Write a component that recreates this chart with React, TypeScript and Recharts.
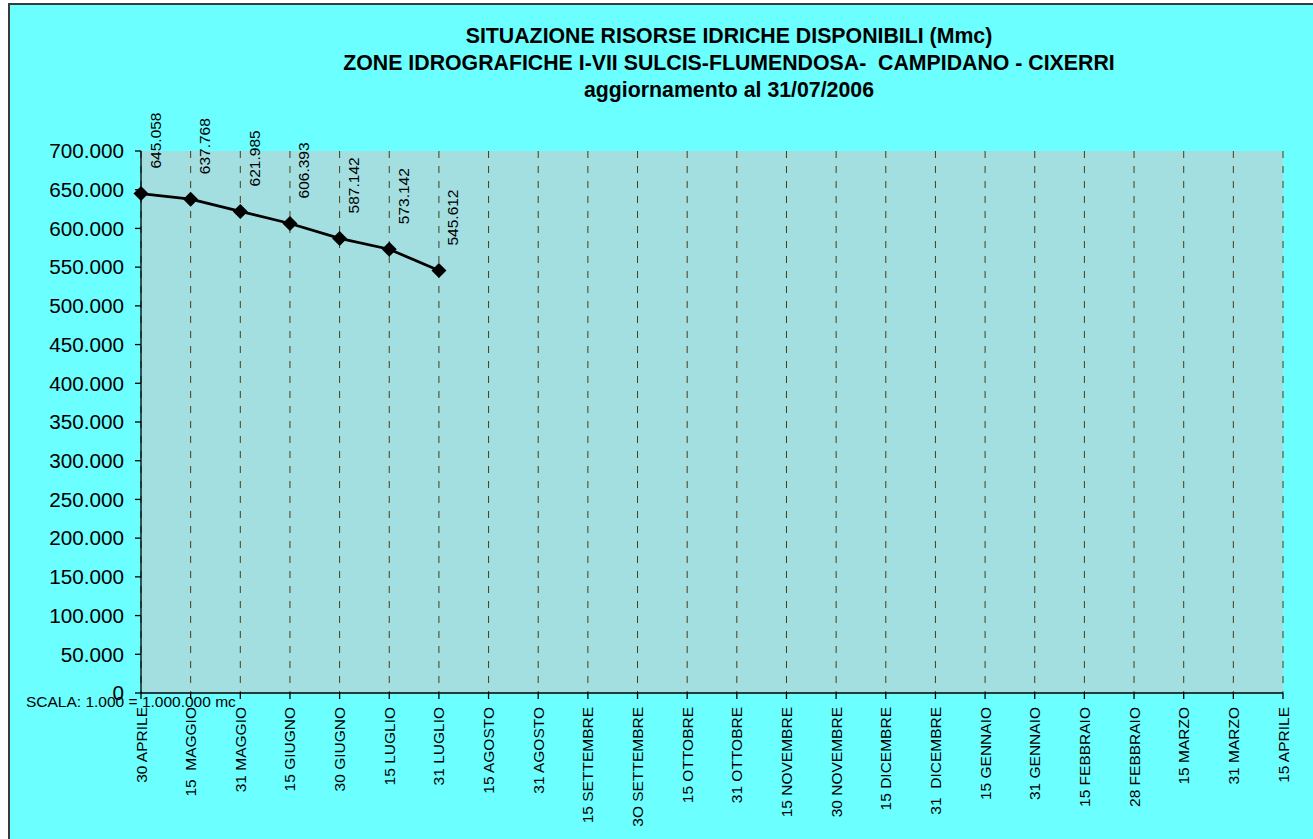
import React from "react"
import { LineChart, Line, XAxis, YAxis, CartesianGrid, LabelList } from "recharts"

// date labels on the x axis (kept as written in the source sheet)
const categories = [
  "30 APRILE", "15  MAGGIO", "31 MAGGIO", "15 GIUGNO", "30 GIUGNO", "15 LUGLIO",
  "31 LUGLIO", "15 AGOSTO", "31 AGOSTO", "15 SETTEMBRE", "3O SETTEMBRE", "15 OTTOBRE",
  "31 OTTOBRE", "15 NOVEMBRE", "30 NOVEMBRE", "15 DICEMBRE", "31  DICEMBRE", "15 GENNAIO",
  "31 GENNAIO", "15 FEBBRAIO", "28 FEBBRAIO", "15 MARZO", "31 MARZO", "15 APRILE",
]

// available volume, in thousands of m3 (1.000 = 1.000.000 mc)
const volumes = [645058, 637768, 621985, 606393, 587142, 573142, 545612]

const yTicks = [
  0, 50000, 100000, 150000, 200000, 250000, 300000, 350000,
  400000, 450000, 500000, 550000, 600000, 650000, 700000,
]

const titleLines = [
  "SITUAZIONE RISORSE IDRICHE DISPONIBILI (Mmc)",
  "ZONE IDROGRAFICHE I-VII SULCIS-FLUMENDOSA-  CAMPIDANO - CIXERRI",
  "aggiornamento al 31/07/2006",
]

const data = categories.map((label, i) => ({
  label,
  value: i < volumes.length ? volumes[i] : null,
}))

const FONT = "Arial, 'Liberation Sans', sans-serif"

// italian style thousands: 645058 -> 645.058
const fmt = (v: number) =>
  v === 0 ? "0" : String(v).replace(/\B(?=(\d{3})+(?!\d))/g, ".")

const XTick = (props: any) => {
  const { x, y, payload } = props
  return (
    <text
      x={0}
      y={0}
      transform={`translate(${x},${y + 8}) rotate(-90)`}
      textAnchor="end"
      dominantBaseline="central"
      fontFamily={FONT}
      fontSize={15.5}
      fill="#000"
      style={{ whiteSpace: "pre" }}
    >
      {payload.value}
    </text>
  )
}

const Diamond = (props: any) => {
  const { cx, cy, index } = props
  if (cx == null || cy == null || props.value == null) return <g key={`d${index}`} />
  const r = 7.5
  return (
    <polygon
      key={`d${index}`}
      points={`${cx},${cy - r} ${cx + r},${cy} ${cx},${cy + r} ${cx - r},${cy}`}
      fill="#000"
    />
  )
}

const ValueLabel = (props: any) => {
  const { x, y, value } = props
  if (value == null || x == null || y == null) return null
  return (
    <text
      x={0}
      y={0}
      transform={`translate(${x + 14},${y - 25}) rotate(-90)`}
      textAnchor="start"
      dominantBaseline="central"
      fontFamily={FONT}
      fontSize={15.5}
      fill="#000"
    >
      {fmt(value)}
    </text>
  )
}

export default function App() {
  return (
    <div
      style={{
        position: "fixed",
        left: 8,
        top: 3,
        width: 1305,
        height: 836,
        borderLeft: "2px solid #3a3a3a",
        borderTop: "2px solid #3a3a3a",
        background: "#6bffff",
        fontFamily: FONT,
      }}
    >
      <div
        style={{
          position: "absolute",
          left: 719,
          top: 18,
          transform: "translateX(-50%)",
          textAlign: "center",
          fontWeight: "bold",
          fontSize: 21.3,
          lineHeight: "27px",
          whiteSpace: "pre",
          color: "#000",
          zIndex: 2,
        }}
      >
        {titleLines.map((t) => (
          <div key={t}>{t}</div>
        ))}
      </div>

      <LineChart
        width={1303}
        height={834}
        data={data}
        margin={{ top: 146, right: 30, bottom: 0, left: 0 }}
      >
        <CartesianGrid
          horizontal={false}
          vertical
          fill="#a3dfe0"
          fillOpacity={1}
          stroke="#4a3c14"
          strokeDasharray="7 8"
        />
        <XAxis
          dataKey="label"
          interval={0}
          height={146}
          padding={{ left: 0, right: 0 }}
          axisLine={{ stroke: "#000", strokeWidth: 1.3 }}
          tickLine={{ stroke: "#000", strokeWidth: 1.3 }}
          tickSize={6}
          tickMargin={0}
          tick={<XTick />}
        />
        <YAxis
          width={131}
          domain={[0, 700000]}
          ticks={yTicks}
          interval={0}
          tickFormatter={fmt}
          axisLine={{ stroke: "#000", strokeWidth: 1.3 }}
          tickLine={{ stroke: "#000", strokeWidth: 1.3 }}
          tickSize={6}
          tickMargin={11}
          tick={{ fill: "#000", fontSize: 20.7, fontFamily: FONT }}
        />
        <Line
          type="linear"
          dataKey="value"
          stroke="#000"
          strokeWidth={2.8}
          dot={<Diamond />}
          activeDot={false}
          isAnimationActive={false}
        >
          <LabelList dataKey="value" content={<ValueLabel />} />
        </Line>
      </LineChart>

      <div
        style={{
          position: "absolute",
          left: 16,
          top: 688,
          fontSize: 15.5,
          lineHeight: "18px",
          whiteSpace: "pre",
          color: "#000",
          zIndex: 2,
        }}
      >
        SCALA: 1.000 = 1.000.000 mc
      </div>
    </div>
  )
}
